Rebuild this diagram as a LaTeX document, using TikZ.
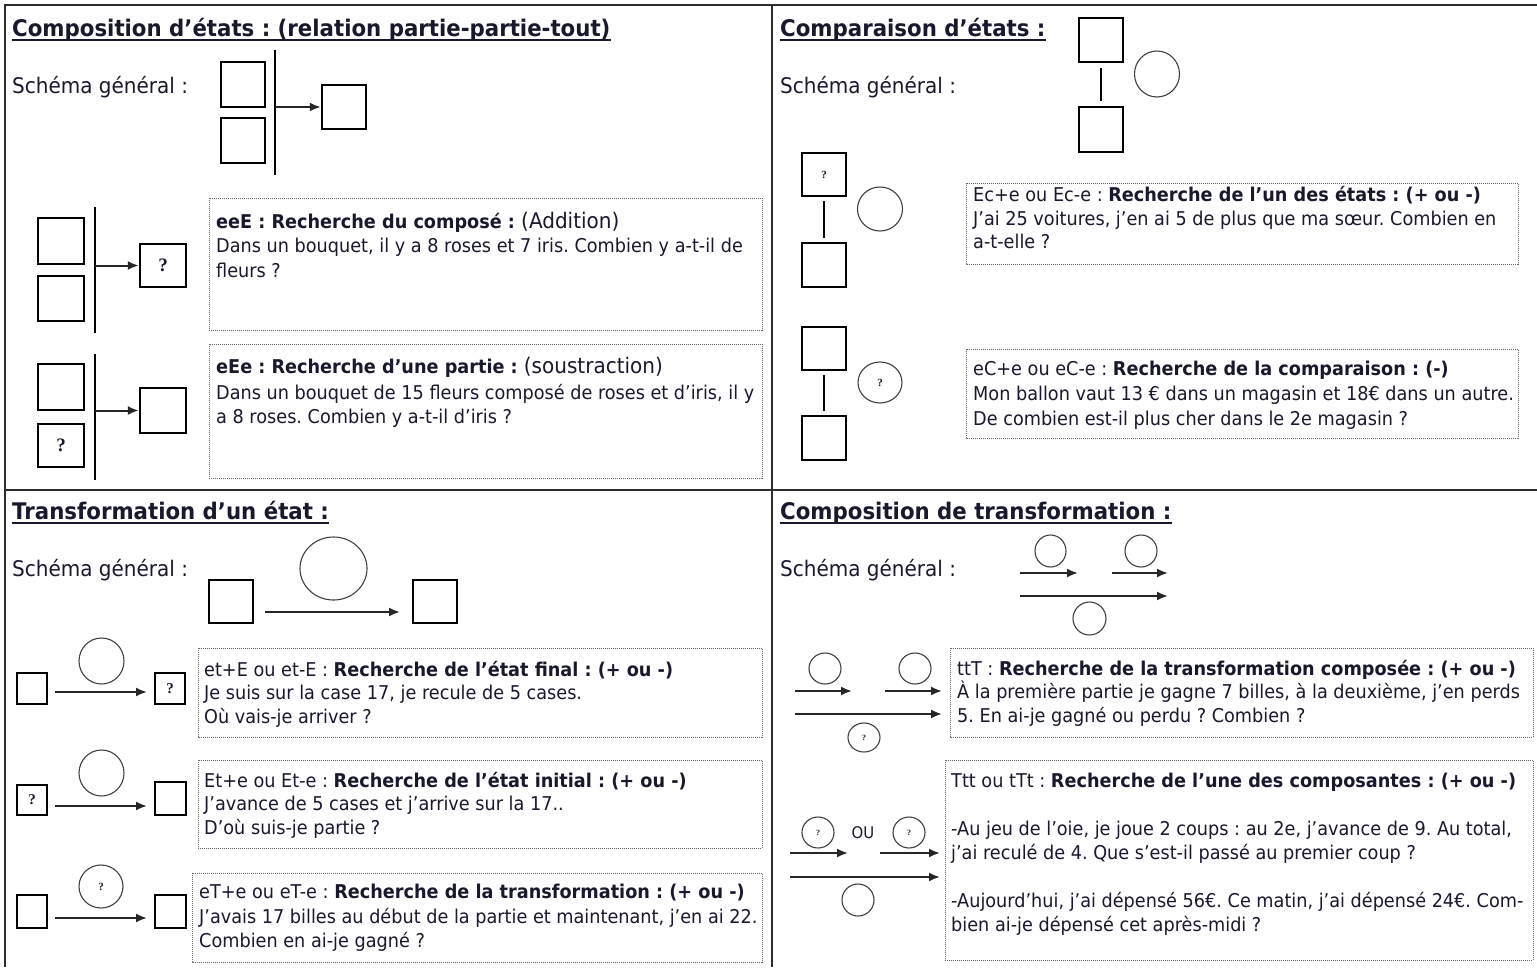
\documentclass[tikz,border=0pt]{standalone}
\usepackage{fontspec}
\setmainfont{DejaVu Sans}[FakeStretch=0.93]
\newfontfamily\qfont{Liberation Serif}
\usetikzlibrary{arrows.meta,shapes.geometric}
\frenchspacing
\definecolor{tcol}{RGB}{25,25,45}
\definecolor{fcol}{RGB}{45,45,45}
\newcommand\myBody{\fontsize{19}{24}\selectfont}
\newcommand\myHead{\fontsize{22.9}{27}\selectfont\bfseries}
\newcommand\mySch{\fontsize{21.5}{25}\selectfont}
\newcommand\myPar{\fontsize{21.5}{25}\selectfont}
\newcommand\myQ{\qfont\bfseries\fontsize{19}{19}\selectfont}
\newcommand\myQs{\qfont\bfseries\fontsize{15}{15}\selectfont}
\newcommand\myQt{\qfont\bfseries\fontsize{11}{11}\selectfont}
\tikzset{
  every node/.style={text=tcol},
  frame/.style={draw=fcol,line width=1.6pt},
  sq/.style={draw=black,line width=2.5pt,rectangle,inner sep=0,font=\myQ,minimum width=44,minimum height=44},
  ssq/.style={draw=black,line width=2pt,rectangle,inner sep=0,font=\myQs,minimum width=30,minimum height=31},
  circ/.style={ellipse,draw=black!75,line width=1.1pt,inner sep=0,font=\myQt},
  vline/.style={draw=black,line width=1.5pt},
  arr/.style={-{Latex[length=11pt,width=9pt]},draw=black!85,line width=2pt},
  dbox/.style={draw=black!60,densely dotted,line width=1pt},
  tl/.style={anchor=base west,inner sep=0,font=\myBody},
  hd/.style={anchor=base west,inner sep=0,font=\myHead},
  sch/.style={anchor=base west,inner sep=0,font=\mySch},
  uline/.style={draw=tcol,line width=1.3pt},
}
\begin{document}
\begin{tikzpicture}[x=1pt,y=-1pt]
\useasboundingbox (0,0) rectangle (1537,967);
\fill[white] (0,0) rectangle (1537,967);
% frame
\draw[frame] (5,967) -- (5,5) -- (1537,5);
\draw[frame] (772,5) -- (772,967);
\draw[frame] (5,490) -- (1537,490);

% ================= TOP LEFT =================
\node[hd] (h1) at (12,36) {Composition d'états : (relation partie-partie-tout)};
\draw[uline] ([yshift=-4pt]h1.base west) -- ([yshift=-4pt]h1.base east);
\node[sch] (s1) at (12,93) {Schéma général :};
\node[sq,minimum height=45] (A1) at (243,84.5) {};
\node[sq,minimum height=45] (A2) at (243,140.5) {};
\node[sq] (A3) at (344,107) {};
\coordinate (At) at (275,50);
\coordinate (Ab) at (275,175);
\coordinate (As) at (275,107);
\draw[vline] (At) -- (Ab);
\draw[arr] (As) -- (A3.west);

% eeE
\node[sq,minimum width=46,minimum height=46] (B1) at (61,241) {};
\node[sq,minimum width=46,minimum height=45] (B2) at (61,298.5) {};
\node[sq,minimum width=46,minimum height=43] (B3) at (163,265.5) {?};
\coordinate (Bt) at (95,207);
\coordinate (Bb) at (95,333);
\coordinate (Bs) at (95,265.5);
\draw[vline] (Bt) -- (Bb);
\draw[arr] (Bs) -- (B3.west);
\draw[dbox] (209,198) rectangle (762,330);
\node[tl] (t11) at (216,228) {\bfseries eeE : Recherche du composé : \mdseries\myPar(Addition)};
\node[tl] (t12) at (216,252) {Dans un bouquet, il y a 8 roses et 7 iris. Combien y a-t-il de};
\node[tl] (t13) at (216,277) {fleurs ?};

% eEe
\node[sq,minimum width=46,minimum height=46] (C1) at (61,387) {};
\node[sq,minimum width=46,minimum height=43] (C2) at (61,445.5) {?};
\node[sq,minimum width=46,minimum height=45] (C3) at (163,410.5) {};
\coordinate (Ct) at (95,354);
\coordinate (Cb) at (95,480);
\coordinate (Cs) at (95,410.5);
\draw[vline] (Ct) -- (Cb);
\draw[arr] (Cs) -- (C3.west);
\draw[dbox] (209,344) rectangle (762,478);
\node[tl] (t21) at (216,373) {\bfseries eEe : Recherche d’une partie : \mdseries\myPar(soustraction)};
\node[tl] (t22) at (216,399) {Dans un bouquet de 15 fleurs composé de roses et d’iris, il y};
\node[tl] (t23) at (216,423) {a 8 roses. Combien y a-t-il d’iris ?};

% ================= TOP RIGHT =================
\node[hd] (h2) at (780,36) {Comparaison d’états :};
\draw[uline] ([yshift=-4pt]h2.base west) -- ([yshift=-4pt]h2.base east);
\node[sch] (s2) at (780,93) {Schéma général :};
\node[sq] (D1) at (1101,40) {};
\node[sq,minimum height=45] (D2) at (1101,129.5) {};
\node[circ,minimum width=45,minimum height=46] (D3) at (1157,74) {};
\draw[vline,shorten <=5pt,shorten >=5pt] (D1.south) -- (D2.north);

% Ec
\node[sq,minimum height=43] (E1) at (824,174.5) {\myQt ?};
\node[sq] (E2) at (824,265) {};
\node[circ,minimum width=45,minimum height=44] (E3) at (880,209) {};
\draw[vline,shorten <=4pt,shorten >=4pt] (E1.south) -- (E2.north);
\draw[dbox] (966,183) rectangle (1518,264);
\node[tl] (t31) at (973,201) {Ec+e ou Ec-e : \bfseries Recherche de l’un des états : (+ ou -)};
\node[tl] (t32) at (973,225) {J’ai 25 voitures, j’en ai 5 de plus que ma sœur. Combien en};
\node[tl] (t33) at (973,248) {a-t-elle ?};

% eC
\node[sq,minimum height=43] (F1) at (824,348.5) {};
\node[sq] (F2) at (824,438) {};
\node[circ,minimum width=44,minimum height=41] (F3) at (880,382.5) {?};
\draw[vline,shorten <=4pt,shorten >=4pt] (F1.south) -- (F2.north);
\draw[dbox] (966,349) rectangle (1518,438);
\node[tl] (t41) at (973,375) {eC+e ou eC-e : \bfseries Recherche de la comparaison : (-)};
\node[tl] (t42) at (973,400) {Mon ballon vaut 13 € dans un magasin et 18€ dans un autre.};
\node[tl] (t43) at (973,425) {De combien est-il plus cher dans le 2e magasin ?};

% ================= BOTTOM LEFT =================
\node[hd] (h3) at (12,519) {Transformation d’un état :};
\draw[uline] ([yshift=-4pt]h3.base west) -- ([yshift=-4pt]h3.base east);
\node[sch] (s3) at (12,576) {Schéma général :};
\node[sq,minimum height=43] (G1) at (231,601.5) {};
\node[sq,minimum height=43] (G2) at (435,601.5) {};
\node[circ,minimum width=67,minimum height=63] (G3) at (333.5,568.5) {};
\coordinate (Ga) at (265,612);
\coordinate (Gb) at (400,612);
\draw[arr] (Ga) -- (Gb);

% ex1
\node[ssq] (H1) at (32,688.5) {};
\node[ssq] (H2) at (170,688.5) {?};
\node[circ,minimum width=45,minimum height=46] (H3) at (101.5,661) {};
\coordinate (Ha) at (55,692);
\coordinate (Hb) at (147,692);
\draw[arr] (Ha) -- (Hb);
\draw[dbox] (198,648) rectangle (762,737);
\node[tl] (t51) at (204,676) {et+E ou et-E : \bfseries Recherche de l’état final : (+ ou -)};
\node[tl] (t52) at (204,699) {Je suis sur la case 17, je recule de 5 cases.};
\node[tl] (t53) at (204,723) {Où vais-je arriver ?};

% ex2
\node[ssq,minimum height=30] (I1) at (32,800) {?};
\node[ssq,minimum width=31,minimum height=33] (I2) at (170.5,798.5) {};
\node[circ,minimum width=45,minimum height=46] (I3) at (101.5,773) {};
\coordinate (Ia) at (55,806);
\coordinate (Ib) at (147,806);
\draw[arr] (Ia) -- (Ib);
\draw[dbox] (198,760) rectangle (762,848);
\node[tl] (t61) at (204,787) {Et+e ou Et-e : \bfseries Recherche de l’état initial : (+ ou -)};
\node[tl] (t62) at (204,810) {J’avance de 5 cases et j’arrive sur la 17..};
\node[tl] (t63) at (204,834) {D’où suis-je partie ?};

% ex3
\node[ssq,minimum height=33] (J1) at (32,911.5) {};
\node[ssq,minimum width=31,minimum height=33] (J2) at (170.5,911.5) {};
\node[circ,minimum width=44,minimum height=43] (J3) at (101,886.5) {?};
\coordinate (Ja) at (55,918);
\coordinate (Jb) at (147,918);
\draw[arr] (Ja) -- (Jb);
\draw[dbox] (192,873) rectangle (762,962);
\node[tl] (t71) at (199,898) {eT+e ou eT-e : \bfseries Recherche de la transformation : (+ ou -)};
\node[tl] (t72) at (199,923) {J’avais 17 billes au début de la partie et maintenant, j’en ai 22.};
\node[tl] (t73) at (199,947) {Combien en ai-je gagné ?};

% ================= BOTTOM RIGHT =================
\node[hd] (h4) at (780,519) {Composition de transformation :};
\draw[uline] ([yshift=-4pt]h4.base west) -- ([yshift=-4pt]h4.base east);
\node[sch] (s4) at (780,576) {Schéma général :};
\node[circ,minimum width=31,minimum height=32] (K1) at (1050.5,551) {};
\node[circ,minimum width=32,minimum height=32] (K2) at (1141,551) {};
\node[circ,minimum width=33,minimum height=33] (K3) at (1089.5,618.5) {};
\coordinate (Ka) at (1020,573);
\coordinate (Kb) at (1078,573);
\coordinate (Kc) at (1112,573);
\coordinate (Kd) at (1168,573);
\coordinate (Ke) at (1020,596);
\coordinate (Kf) at (1168,596);
\draw[arr] (Ka) -- (Kb);
\draw[arr] (Kc) -- (Kd);
\draw[arr] (Ke) -- (Kf);

% ttT
\node[circ,minimum width=32,minimum height=31] (L1) at (825,668.5) {};
\node[circ,minimum width=32,minimum height=31] (L2) at (915,668.5) {};
\node[circ,minimum width=32,minimum height=29,font=\qfont\bfseries\fontsize{8}{8}\selectfont] (L3) at (864,737.5) {?};
\coordinate (La) at (795,691);
\coordinate (Lb) at (852,691);
\coordinate (Lc) at (885,691);
\coordinate (Ld) at (942,691);
\coordinate (Le) at (795,714);
\coordinate (Lf) at (942,714);
\draw[arr] (La) -- (Lb);
\draw[arr] (Lc) -- (Ld);
\draw[arr] (Le) -- (Lf);
\draw[dbox] (950,648) rectangle (1533,737);
\node[tl] (t81) at (957,675) {ttT : \bfseries Recherche de la transformation composée : (+ ou -)};
\node[tl] (t82) at (957,698) {À la première partie je gagne 7 billes, à la deuxième, j’en perds};
\node[tl] (t83) at (957,722) {5. En ai-je gagné ou perdu ? Combien ?};

% Ttt
\node[circ,minimum width=32,minimum height=31,font=\qfont\bfseries\fontsize{8}{8}\selectfont] (M1) at (818,832.5) {?};
\node[inner sep=0,font=\fontsize{16}{16}\selectfont] (M0) at (863,833) {OU};
\node[circ,minimum width=32,minimum height=31,font=\qfont\bfseries\fontsize{8}{8}\selectfont] (M2) at (909,832.5) {?};
\node[circ,minimum width=32,minimum height=32] (M3) at (858,900) {};
\coordinate (Ma) at (790,853);
\coordinate (Mb) at (848,853);
\coordinate (Mc) at (880,853);
\coordinate (Md) at (940,853);
\coordinate (Me) at (790,877);
\coordinate (Mf) at (940,877);
\draw[arr] (Ma) -- (Mb);
\draw[arr] (Mc) -- (Md);
\draw[arr] (Me) -- (Mf);
\draw[dbox] (945,760) rectangle (1533,960);
\node[tl] (t91) at (951,787) {Ttt ou tTt : \bfseries Recherche de l’une des composantes : (+ ou -)};
\node[tl] (t92) at (951,835) {-Au jeu de l’oie, je joue 2 coups : au 2e, j’avance de 9. Au total,};
\node[tl] (t93) at (951,859) {j’ai reculé de 4. Que s’est-il passé au premier coup ?};
\node[tl] (t94) at (951,907) {-Aujourd’hui, j’ai dépensé 56€. Ce matin, j’ai dépensé 24€. Com-};
\node[tl] (t95) at (951,931) {bien ai-je dépensé cet après-midi ?};
\end{tikzpicture}
\end{document}
